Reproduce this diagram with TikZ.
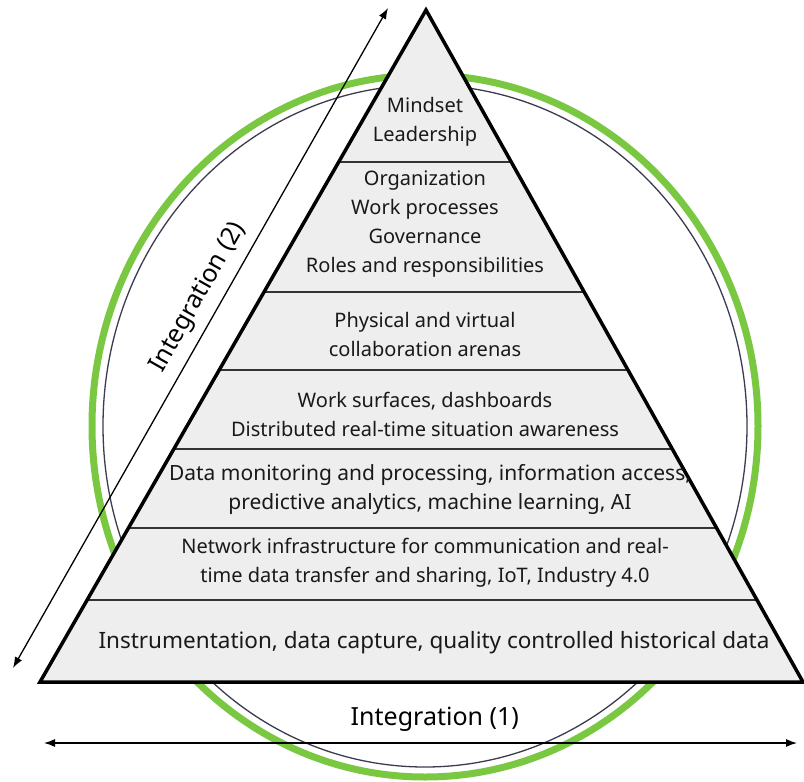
\documentclass[tikz,border=0pt]{standalone}
\usepackage{fontspec}
\setmainfont{Noto Sans}
\usetikzlibrary{calc,arrows.meta}

\definecolor{ringgreen}{RGB}{122,200,66}
\definecolor{ringline}{RGB}{60,60,80}
\definecolor{layerfill}{RGB}{238,238,238}

\tikzset{
  layertext/.style={align=center, text=black!90, inner sep=0pt,
    font=\fontsize{20}{29}\selectfont},
  axislabel/.style={inner sep=0pt, font=\fontsize{25}{30}\selectfont},
  axisarrow/.style={{Latex[length=11pt,width=8pt]}-{Latex[length=11pt,width=8pt]},
    line width=1.3pt},
}

\begin{document}
\begin{tikzpicture}[x=1pt,y=-1pt]
  \useasboundingbox[fill=white] (0,0) rectangle (804,782);

  % the two rings behind the pyramid
  \draw[ringgreen, line width=7pt] (425,426) ellipse [x radius=333, y radius=351];
  \draw[ringline, line width=1.3pt] (425,426) ellipse [x radius=322, y radius=341];

  % pyramid and its layers
  \coordinate (apex) at (426,10);
  \coordinate (bl) at (40,682);
  \coordinate (br) at (803,682);
  \fill[layerfill] (apex) -- (bl) -- (br) -- cycle;
  \foreach \t in {0.2262,0.4196,0.5357,0.6533,0.7708,0.878}
    \draw[black!80, line width=2pt] ($(apex)!\t!(bl)$) -- ($(apex)!\t!(br)$);
  \draw[line width=3.5pt] (apex) -- (bl) -- (br) -- cycle;

  \node[layertext] (mindset) at (425,122) {Mindset\\Leadership};
  \node[layertext] (organization) at (425,224)
    {Organization\\Work processes\\Governance\\Roles and responsibilities};
  \node[layertext] (arenas) at (425,334) {Physical and virtual\\collaboration arenas};
  \node[layertext] (surfaces) at (425,414)
    {Work surfaces, dashboards\\Distributed real-time situation awareness};
  \node[layertext, font=\fontsize{21}{29}\selectfont] (analytics) at (430,489)
    {Data monitoring and processing, information access,\\predictive analytics, machine learning, AI};
  \node[layertext] (network) at (425,563)
    {Network infrastructure for communication and real-\\time data transfer and sharing, IoT, Industry 4.0};
  \node[layertext, font=\fontsize{22.5}{29}\selectfont] (instrumentation) at (434,643)
    {Instrumentation, data capture, quality controlled historical data};

  % integration axes
  \coordinate (i1w) at (44,743);
  \coordinate (i1e) at (797,743);
  \draw[axisarrow] (i1w) -- node[axislabel, pos=0.519, above=11pt] (intone) {Integration (1)} (i1e);

  \coordinate (i2s) at (13,668);
  \coordinate (i2n) at (388,8);
  \draw[axisarrow] (i2s) -- node[axislabel, sloped, pos=0.545, above=9pt] (inttwo) {Integration (2)} (i2n);
\end{tikzpicture}
\end{document}
